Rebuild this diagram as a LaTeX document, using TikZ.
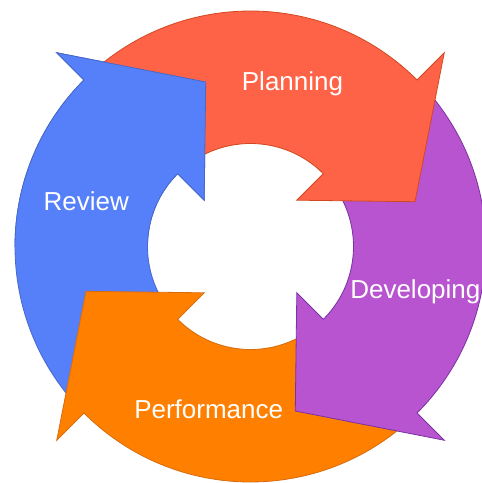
\documentclass[tikz,border=0pt]{standalone}
\usepackage{fontspec}
\setmainfont{Liberation Sans}
\definecolor{cRed}{RGB}{255,99,71}
\definecolor{cRedLine}{RGB}{208,72,32}
\definecolor{cBlue}{RGB}{86,128,250}
\definecolor{cBlueLine}{RGB}{72,104,200}
\definecolor{cPurple}{RGB}{184,84,208}
\definecolor{cPurpleLine}{RGB}{122,50,162}
\definecolor{cOrange}{RGB}{255,128,0}
\definecolor{cOrangeLine}{RGB}{214,108,16}
% one arrow of the cycle, rotated by #1 degrees
\newcommand{\cyclearrow}[1]{%
  ({135+#1}:235.5) arc[start angle={135+#1}, end angle={45+#1}, radius=235.5]
  -- ({45+#1}:274) -- ({15.23+#1}:170.5) -- ({45+#1}:65.5) -- ({45+#1}:103)
  arc[start angle={45+#1}, end angle={135+#1}, radius=103] -- cycle}
\begin{document}
\begin{tikzpicture}[x=1pt,y=1pt,
  arrowshape/.style={line width=0.8pt, line join=miter},
  lbl/.style={text=white, inner sep=0pt, font=\fontsize{26}{30}\selectfont}]
\useasboundingbox (-250.5,-236.5) rectangle (231.5,246.5);
\clip (-250.5,-236.5) rectangle (231.5,246.5);
% bodies, drawn so that each head lies over the next arrow's tail
\path[arrowshape, fill=cBlue, draw=cBlueLine] \cyclearrow{90};
\path[arrowshape, fill=cOrange, draw=cOrangeLine] \cyclearrow{-180};
\path[arrowshape, fill=cPurple, draw=cPurpleLine] \cyclearrow{-90};
\path[arrowshape, fill=cRed, draw=cRedLine] \cyclearrow{0};
% the head of Review over the tail of Planning
\begin{scope}
  \clip (-260,0) rectangle (0,260);
  \path[arrowshape, fill=cBlue, draw=cBlueLine] \cyclearrow{90};
\end{scope}
% labels
\node[lbl, anchor=base] (planning) at (42,155.8) {Planning};
\node[lbl, anchor=base] (review) at (-164.3,35.8) {Review};
\node[lbl, anchor=base west] (developing) at (99.6,-51.8) {Developing};
\node[lbl, anchor=base] (performance) at (-41.8,-171.8) {Performance};
\end{tikzpicture}
\end{document}
